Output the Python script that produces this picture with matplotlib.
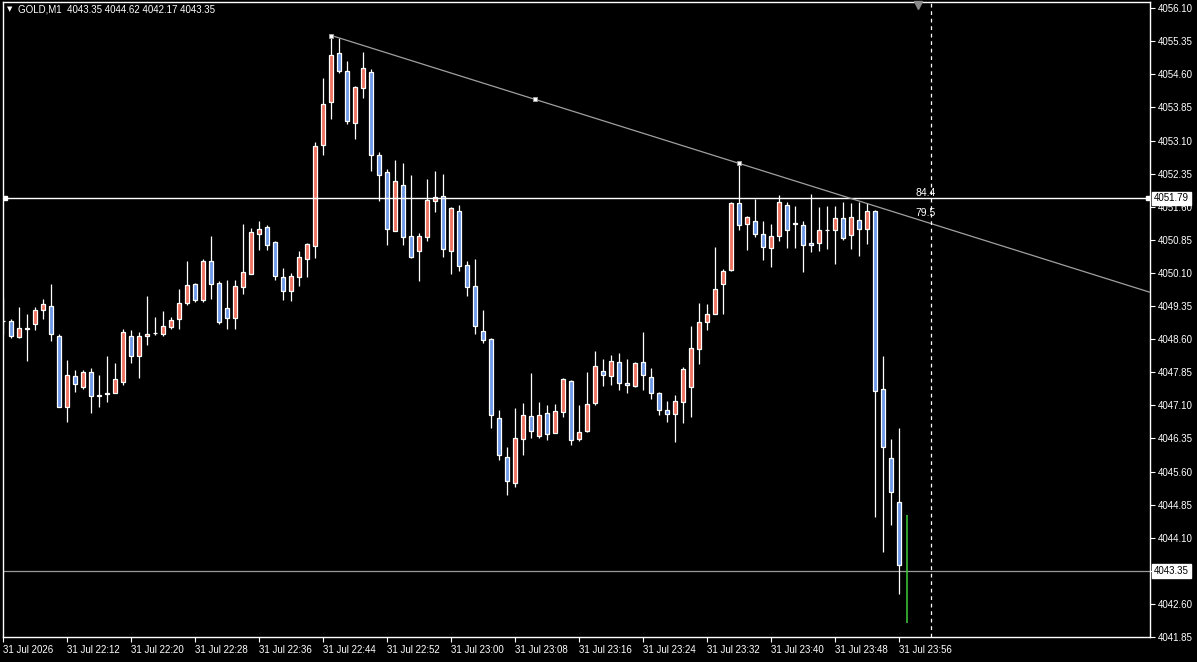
import numpy as np
import matplotlib
matplotlib.use('Agg')
import matplotlib.pyplot as plt
import matplotlib.transforms as mtransforms
from matplotlib.patches import Rectangle

SYMBOL = 'GOLD,M1'

# one candle per minute, 22:04 .. 23:57
OPEN = [4049.00, 4049.02, 4048.64, 4048.84, 4048.94, 4049.27, 4049.36, 4048.68, 4047.07, 4047.77,
        4047.51, 4047.86, 4047.33, 4047.36, 4047.38, 4047.63, 4048.68, 4048.21, 4048.68, 4048.74,
        4048.71, 4048.87, 4049.05, 4049.42, 4049.85, 4049.48, 4050.36, 4049.88, 4049.30, 4049.08,
        4049.78, 4050.07, 4050.99, 4051.15, 4050.81, 4050.01, 4049.69, 4050.01, 4050.42, 4050.71,
        4052.99, 4053.98, 4055.09, 4054.68, 4053.49, 4054.29, 4054.66, 4052.78, 4052.39, 4051.06,
        4052.10, 4050.94, 4050.60, 4050.91, 4051.74, 4051.85, 4050.60, 4051.51, 4050.29, 4049.81,
        4048.79, 4048.61, 4046.82, 4045.93, 4045.35, 4046.34, 4046.86, 4046.41, 4046.93, 4046.48,
        4046.95, 4047.66, 4046.34, 4046.52, 4047.16, 4047.88, 4047.77, 4048.09, 4047.61, 4047.54,
        4048.09, 4047.75, 4047.38, 4047.00, 4046.90, 4047.17, 4047.51, 4048.37, 4048.99, 4049.18,
        4049.85, 4050.16, 4051.69, 4051.21, 4051.28, 4050.99, 4050.67, 4050.94, 4051.65, 4051.22,
        4051.19, 4050.78, 4050.78, 4051.07, 4051.08, 4051.35, 4050.97, 4051.31, 4051.10, 4051.51,
        4047.48, 4045.91, 4044.92, 4043.35]
HIGH = [4049.54, 4049.05, 4049.33, 4049.18, 4049.33, 4049.52, 4049.86, 4048.72, 4048.12, 4047.89,
        4047.91, 4047.94, 4047.78, 4048.21, 4048.07, 4048.84, 4048.81, 4048.77, 4049.57, 4049.11,
        4049.23, 4049.11, 4049.73, 4050.36, 4049.88, 4050.41, 4050.93, 4049.91, 4049.93, 4049.95,
        4051.20, 4051.12, 4051.27, 4051.18, 4050.83, 4050.22, 4050.10, 4050.59, 4050.77, 4053.07,
        4054.52, 4055.48, 4055.43, 4054.91, 4054.33, 4055.10, 4054.71, 4052.85, 4052.46, 4052.67,
        4052.60, 4052.31, 4051.01, 4052.23, 4052.42, 4052.35, 4051.59, 4051.63, 4050.38, 4050.41,
        4049.27, 4048.62, 4047.00, 4046.16, 4047.05, 4047.16, 4047.84, 4047.18, 4047.11, 4047.14,
        4047.71, 4047.67, 4047.11, 4047.86, 4048.34, 4048.16, 4048.25, 4048.29, 4048.16, 4048.09,
        4048.77, 4047.95, 4047.41, 4047.20, 4047.34, 4047.97, 4048.90, 4049.42, 4049.40, 4050.69,
        4050.19, 4051.70, 4052.58, 4051.38, 4051.78, 4051.28, 4051.21, 4051.87, 4051.71, 4051.62,
        4051.28, 4051.89, 4051.60, 4051.62, 4051.62, 4051.71, 4051.69, 4051.71, 4051.69, 4051.52,
        4048.22, 4046.34, 4046.58, 4044.62]
LOW = [4048.71, 4048.62, 4048.62, 4048.10, 4048.80, 4049.05, 4048.55, 4047.07, 4046.72, 4047.41,
       4047.48, 4046.92, 4047.06, 4047.17, 4047.38, 4047.56, 4048.06, 4047.72, 4048.46, 4048.69,
       4048.67, 4048.83, 4048.83, 4049.38, 4049.45, 4049.44, 4049.51, 4048.94, 4048.82, 4048.82,
       4049.62, 4050.07, 4050.63, 4050.62, 4049.95, 4049.48, 4049.46, 4049.80, 4050.00, 4050.44,
       4052.77, 4053.58, 4054.63, 4053.47, 4053.13, 4054.06, 4052.41, 4051.73, 4050.73, 4051.05,
       4050.73, 4050.44, 4049.91, 4050.82, 4051.48, 4050.46, 4050.08, 4050.14, 4049.57, 4048.72,
       4048.52, 4046.58, 4045.87, 4045.07, 4045.26, 4045.98, 4046.37, 4046.37, 4046.32, 4046.47,
       4046.84, 4046.21, 4046.30, 4046.50, 4047.11, 4047.54, 4047.57, 4047.45, 4047.39, 4047.52,
       4047.44, 4047.25, 4046.88, 4046.72, 4046.27, 4046.70, 4046.83, 4048.03, 4048.80, 4049.17,
       4049.17, 4050.14, 4051.08, 4050.63, 4050.92, 4050.39, 4050.24, 4050.83, 4050.66, 4050.66,
       4050.12, 4050.58, 4050.60, 4050.65, 4050.31, 4050.85, 4050.64, 4050.48, 4050.75, 4044.57,
       4043.77, 4044.39, 4042.82, 4042.17]
CLOSE = [4049.02, 4048.67, 4048.86, 4048.85, 4049.27, 4049.40, 4048.72, 4047.07, 4047.79, 4047.59,
         4047.86, 4047.32, 4047.32, 4047.38, 4047.69, 4048.77, 4048.21, 4048.68, 4048.72, 4048.75,
         4048.90, 4049.04, 4049.42, 4049.82, 4049.48, 4050.38, 4049.85, 4048.99, 4049.08, 4049.81,
         4050.13, 4051.02, 4051.10, 4050.73, 4050.03, 4049.70, 4050.04, 4050.47, 4050.76, 4052.98,
         4053.93, 4055.04, 4054.67, 4053.54, 4054.32, 4054.75, 4052.77, 4052.32, 4051.09, 4052.19,
         4050.92, 4050.46, 4050.94, 4051.76, 4051.82, 4050.64, 4051.58, 4050.26, 4049.79, 4048.90,
         4048.59, 4046.88, 4045.98, 4045.39, 4046.37, 4046.89, 4046.52, 4046.89, 4046.46, 4046.98,
         4047.70, 4046.32, 4046.50, 4047.14, 4048.00, 4047.79, 4048.11, 4047.61, 4047.57, 4048.06,
         4047.78, 4047.38, 4046.99, 4046.90, 4047.20, 4047.93, 4048.40, 4048.99, 4049.18, 4049.74,
         4050.15, 4051.69, 4051.19, 4051.37, 4050.99, 4050.69, 4050.94, 4051.71, 4051.08, 4051.23,
         4050.74, 4050.74, 4051.08, 4051.08, 4051.35, 4050.89, 4051.37, 4051.10, 4051.51, 4047.43,
         4046.16, 4045.14, 4043.49, 4043.35]

TIME_LABELS = ['31 Jul 2026', '31 Jul 22:12', '31 Jul 22:20', '31 Jul 22:28', '31 Jul 22:36',
               '31 Jul 22:44', '31 Jul 22:52', '31 Jul 23:00', '31 Jul 23:08', '31 Jul 23:16',
               '31 Jul 23:24', '31 Jul 23:32', '31 Jul 23:40', '31 Jul 23:48', '31 Jul 23:56']
PRICE_TICKS = [4041.85, 4042.60, 4043.35, 4044.10, 4044.85, 4045.60, 4046.35, 4047.10, 4047.85,
               4048.60, 4049.35, 4050.10, 4050.85, 4051.60, 4052.35, 4053.10, 4053.85, 4054.60,
               4055.35, 4056.10]

HLINE_LEVEL = 4051.79
BID = 4043.35
TREND_START = (41, 4055.48)
TREND_END = (92, 4052.58)
DAY_SEPARATOR = 116
LEVEL_TEXTS = [('84.4', 4051.92), ('79.5', 4051.45)]

BULL_COLOR = '#ee6f5b'
BEAR_COLOR = '#6b97e6'
DOJI_COLOR = '#3ccf3c'
FONT = ['Liberation Sans', 'DejaVu Sans']

W, H = 1197, 662


def draw_candles(ax):
    """draw wicks and bodies, the last (open) bar as a plain line"""
    n = len(OPEN)
    x = np.arange(n)
    ax.vlines(x[:-1], LOW[:-1], HIGH[:-1], color='white', lw=0.9, zorder=2)
    ax.vlines(x[-1], LOW[-1], HIGH[-1], color=DOJI_COLOR, lw=1.1, zorder=2)
    body_w = 0.52
    for i in range(n - 1):
        o, c = OPEN[i], CLOSE[i]
        if c > o:
            fc = BULL_COLOR
        elif c < o:
            fc = BEAR_COLOR
        else:
            fc = 'white'
        bottom = min(o, c)
        height = max(abs(c - o), 0.01)
        ax.add_patch(Rectangle((i - body_w / 2, bottom), body_w, height, facecolor=fc,
                               edgecolor='white', lw=0.9, zorder=3))


def draw_objects(ax):
    """horizontal level, trend ray, period separator and labels"""
    x_right = ax.get_xlim()[1]
    ax.axhline(HLINE_LEVEL, color='white', lw=1.0, zorder=4)
    ax.plot([0.2, x_right - 0.3], [HLINE_LEVEL] * 2, 's', ms=3, color='white', zorder=5)
    ax.axhline(BID, color='#9a9a9a', lw=0.9, zorder=1)

    (x0, y0), (x1, y1) = TREND_START, TREND_END
    slope = (y1 - y0) / (x1 - x0)
    ax.plot([x0, x_right], [y0, y0 + slope * (x_right - x0)], color='#a0a0a0', lw=0.9, zorder=4)
    xm, ym = (x0 + x1) / 2, (y0 + y1) / 2
    ax.plot([x0, xm, x1], [y0, ym, y1], 's', ms=3.2, mfc='white', mec='#a0a0a0', mew=0.7, zorder=5)

    ax.axvline(DAY_SEPARATOR, color='white', lw=0.9, ls=(0, (3, 3)), zorder=4)
    ax.plot([114.3], [0.994], marker='v', ms=6, color='#8a8a8a', transform=ax.get_xaxis_transform(),
            clip_on=False, zorder=5)

    for txt, y in LEVEL_TEXTS:
        ax.text(115.3, y, txt, color='white', fontsize=7.5, family=FONT, ha='center', va='center', zorder=6)

    trans = mtransforms.blended_transform_factory(ax.transAxes, ax.transData)
    for val in (HLINE_LEVEL, BID):
        ax.text(1.0035, val, '%.2f' % val, transform=trans, color='black', fontsize=7, family=FONT,
                ha='left', va='center', clip_on=False, zorder=7,
                bbox=dict(boxstyle='square,pad=0.18', fc='white', ec='white'))


if __name__ == "__main__":
    fig = plt.figure(figsize=(W / 100, H / 100), dpi=100, facecolor='black')
    left, right, top, bottom = 2.5, 1150, 1.5, 637
    ax = fig.add_axes([left / W, (H - bottom) / H, (right - left) / W, (bottom - top) / H])
    ax.set_facecolor('black')

    ax.set_xlim((left - 3.4) / 8, (right - 3.4) / 8)
    ax.set_ylim(4041.85, 4041.85 + (bottom - top) / 44.13)

    draw_candles(ax)
    draw_objects(ax)

    for s in ax.spines.values():
        s.set_color('white')
        s.set_linewidth(1.0)

    ax.yaxis.tick_right()
    ax.set_yticks(PRICE_TICKS)
    # the bid box already shows its own price, so that tick label stays hidden under it
    ax.set_yticklabels(['' if abs(p - BID) < 1e-6 else '%.2f' % p for p in PRICE_TICKS])
    ax.set_xticks(np.arange(len(TIME_LABELS)) * 8)
    ax.set_xticklabels(TIME_LABELS)
    ax.tick_params(axis='both', colors='white', labelcolor='white', labelsize=7, length=3.5, width=0.8,
                   direction='out')
    ax.tick_params(axis='y', pad=2)
    ax.tick_params(axis='x', pad=2)
    for lbl in ax.get_xticklabels() + ax.get_yticklabels():
        lbl.set_family(FONT)
    for lbl in ax.get_xticklabels():
        lbl.set_ha('left')

    fig.text(7 / W, 1 - 9 / H, '\u25bc', color='white', fontsize=5, family=['DejaVu Sans'], va='center')
    fig.text(18 / W, 1 - 9.5 / H, '%s  %.2f %.2f %.2f %.2f' % (SYMBOL, OPEN[-1], HIGH[-1], LOW[-1], CLOSE[-1]),
             color='white', fontsize=7, family=FONT, va='center')

    fig.savefig('out.png', dpi=100, facecolor='black')
